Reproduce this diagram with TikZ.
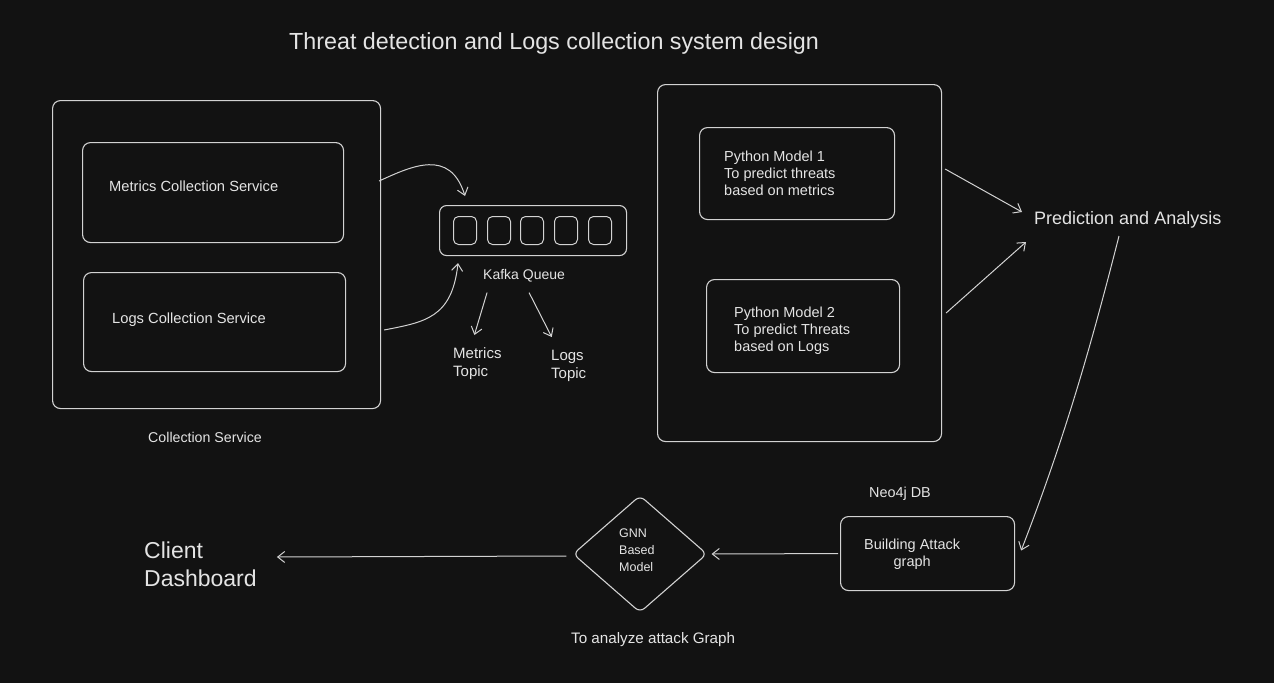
\documentclass[tikz,border=0pt]{standalone}
\usepackage{fontspec}
\setmainfont{Liberation Sans}
\usetikzlibrary{arrows.meta,shapes.geometric,calc}
\definecolor{bg}{HTML}{121212}
\definecolor{ln}{HTML}{D2D2D2}
\definecolor{tx}{HTML}{E4E4E4}
\newcommand{\fs}[1]{\fontsize{#1}{#1}\selectfont}
\tikzset{
  box/.style={draw=ln, line width=1.1pt, rounded corners=8pt, anchor=north west, inner sep=0pt},
  cell/.style={draw=ln, line width=1pt, rounded corners=5pt, anchor=north west, inner sep=0pt, minimum width=23pt, minimum height=28pt},
  lbl/.style={text=tx, anchor=west, inner sep=0pt, font=\fs{14.7}},
  mlbl/.style={text=tx, anchor=north west, inner sep=0pt, align=left, font=\fontsize{14.5}{17}\selectfont},
  arr/.style={draw=ln, line width=1pt, -{Straight Barb[length=7pt,width=11pt]}},
}
\begin{document}
\begin{tikzpicture}[x=1pt,y=-1pt]
\fill[bg] (0,0) rectangle (1274,683);
\useasboundingbox (0,0) rectangle (1274,683);

% title
\node[lbl, font=\fs{23.3}] (title) at (289,43) {Threat detection and Logs collection system design};

% left group
\node[box, minimum width=328pt, minimum height=308pt] (outerL) at (52,100) {};
\node[box, minimum width=261pt, minimum height=100pt] (metrics) at (82,142) {};
\node[box, minimum width=262pt, minimum height=99pt] (logs) at (83,272) {};
\node[lbl] (metricsT) at (109,186) {Metrics Collection Service};
\node[lbl] (logsT) at (112,320) {Logs Collection Service};
\node[lbl, font=\fs{14.2}] (collT) at (148,437) {Collection Service};

% kafka
\node[box, rounded corners=7pt, minimum width=187pt, minimum height=50pt] (kafka) at (439,205) {};
\node[cell] (c1) at (453,216) {};
\node[cell] (c2) at (487,216) {};
\node[cell] (c3) at (520,216) {};
\node[cell] (c4) at (554,216) {};
\node[cell] (c5) at (588,216) {};
\node[lbl, font=\fs{14}] (kq) at (483,276) {Kafka Queue};
\node[mlbl, font=\fontsize{15}{18}\selectfont] (mt) at (453,347) {Metrics\\Topic};
\node[mlbl, font=\fontsize{15}{18}\selectfont] (lt) at (551,350) {Logs\\Topic};

\draw[arr] ($(outerL.north east)+(-2,81)$) .. controls (412,166) and (450,148) .. ($(kafka.north west)+(26,-9)$);
\draw[arr] ($(outerL.north east)+(3,230)$) .. controls (425,322) and (452,318) .. ($(kafka.south west)+(19,7)$);
\draw[arr] ($(kq.south)+(-37,10)$) -- ($(mt.north)+(-3,-12)$);
\draw[arr] ($(kq.south)+(5,10)$) -- ($(lt.north)+(-17,-13)$);

% right group
\node[box, minimum width=284pt, minimum height=357pt] (outerR) at (657,84) {};
\node[box, minimum width=195pt, minimum height=92pt] (m1) at (699,127) {};
\node[box, minimum width=193pt, minimum height=93pt] (m2) at (706,279) {};
\node[mlbl] (m1T) at (724,151) {Python Model 1\\To predict threats\\based on metrics};
\node[mlbl] (m2T) at (734,307) {Python Model 2\\To predict Threats\\based on Logs};
\node[lbl, font=\fs{18}] (pred) at (1034,220) {Prediction and Analysis};

\draw[arr] ($(outerR.north east)+(3,85)$) -- ($(pred.west)+(-12,-8)$);
\draw[arr] ($(outerR.north east)+(4,229)$) -- ($(pred.west)+(-8,22)$);

% bottom
\node[lbl, font=\fs{14.4}] (neoT) at (869,494) {Neo4j DB};
\node[box, minimum width=174pt, minimum height=74pt] (neo) at (840,516) {};
\node[mlbl, align=center] (neoL) at (864,539) {Building Attack\\graph};
\node[draw=ln, line width=1.1pt, shape=diamond, rounded corners=6pt, minimum width=134pt, minimum height=117pt, inner sep=0pt] (gnn) at (640,554) {};
\node[mlbl, font=\fontsize{12.5}{17}\selectfont] (gnnT) at (619,529) {GNN\\Based\\Model};
\node[lbl, font=\fs{23}, anchor=north west, align=left] (client) at (144,542) {Client\\[5pt]Dashboard};
\node[lbl, font=\fs{15.2}] (anaT) at (571,640) {To analyze attack Graph};

\draw[arr] ($(pred.west)+(85,16)$) .. controls (1095,330) and (1068,430) .. ($(neo.east)+(6,-3)$);
\draw[arr] ($(neo.west)+(-2,0)$) -- ($(gnn.east)+(4,0)$);
\draw[arr] ($(gnn.west)+(-6,2)$) -- ($(client.north east)+(20,15)$);
\end{tikzpicture}
\end{document}
